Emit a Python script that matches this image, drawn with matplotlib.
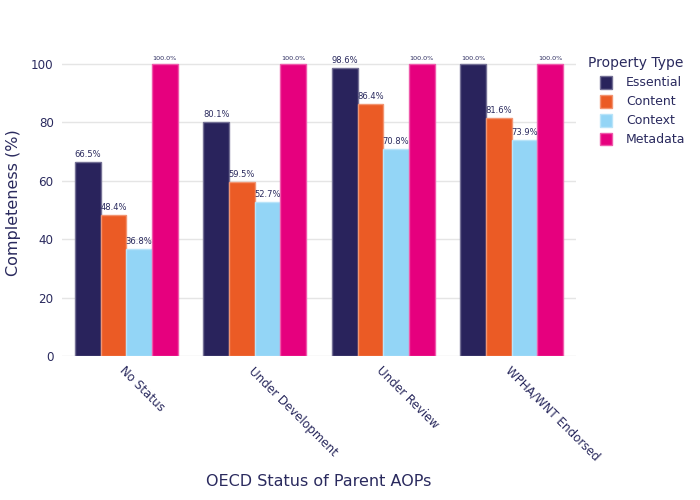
import matplotlib
matplotlib.use("Agg")
import matplotlib.pyplot as plt
import numpy as np
from matplotlib.colors import to_rgb
from matplotlib.patches import Rectangle

categories = ["No Status", "Under Development", "Under Review", "WPHA/WNT Endorsed"]
series_names = ["Essential", "Content", "Context", "Metadata"]
essential = [66.5, 80.1, 98.6, 100.0]
content = [48.4, 59.5, 86.4, 81.6]
context = [36.8, 52.7, 70.8, 73.9]
metadata = [100.0, 100.0, 100.0, 100.0]
colors = ["#29235C", "#EB5B25", "#93D5F6", "#E6007E"]
yticks = [0, 20, 40, 60, 80, 100]

values = [essential, content, context, metadata]
txt = "#2A2A5E"

plt.rcParams['font.family'] = ['DejaVu Sans']
fig = plt.figure(figsize=(7, 5), dpi=100)
ax = fig.add_axes([62/700, 1-356/500, (576-62)/700, (356-50)/500])

x = np.arange(len(categories))
w = 0.2
edges = []
for i, (name, vals, c) in enumerate(zip(series_names, values, colors)):
    pos = x - 0.3 + i * w
    rgb = np.array(to_rgb(c))
    edge = tuple(rgb + (1 - rgb) * 0.35)
    edges.append(edge)
    ax.bar(pos, vals, width=w, color=c, edgecolor=edge, linewidth=1.0,
           label=name, zorder=3)
    for p, v in zip(pos, vals):
        small = v >= 99.95
        ax.annotate(f"{v:.1f}%", (p, v), xytext=(0, 2 if not small else 2.5),
                    textcoords="offset points", ha="center", va="bottom",
                    fontsize=4.6 if small else 6.0, color=txt, zorder=4)

ax.set_xlim(-0.5, len(categories) - 0.5)
ax.set_ylim(0, 104.8)
ax.set_yticks(yticks)
ax.set_yticklabels([str(t) for t in yticks])
ax.set_xticks(x)
ax.set_xticklabels(categories, rotation=-45, ha="left", va="top",
                   rotation_mode="anchor")
ax.tick_params(axis="both", length=0, labelsize=8.6, colors=txt)
ax.tick_params(axis="y", pad=6)
ax.tick_params(axis="x", pad=6)
ax.grid(axis="y", color="#E5E5E5", linewidth=1, zorder=0)
for s in ax.spines.values():
    s.set_visible(False)

ax.set_ylabel("Completeness (%)", fontsize=11.5, color=txt)
ax.yaxis.set_label_coords((21 - 62) / 514, 0.5)
fig.text(319/700, 1-482/500, "OECD Status of Parent AOPs", fontsize=11.5,
         color=txt, ha="center", va="center")

# legend
fig.text(588/700, 1-63.5/500, "Property Type", fontsize=10, color=txt,
         ha="left", va="center")
row_y = [82.5, 101.5, 120.5, 139.5]
for name, c, e, yy in zip(series_names, colors, edges, row_y):
    fig.patches.append(Rectangle((600/700, 1-(yy+6)/500), 12/700, 12/500,
                                 transform=fig.transFigure, facecolor=c,
                                 edgecolor=e, linewidth=1.0))
    fig.text(626/700, 1-yy/500, name, fontsize=9, color=txt,
             ha="left", va="center")

fig.savefig("out.png", dpi=100)
